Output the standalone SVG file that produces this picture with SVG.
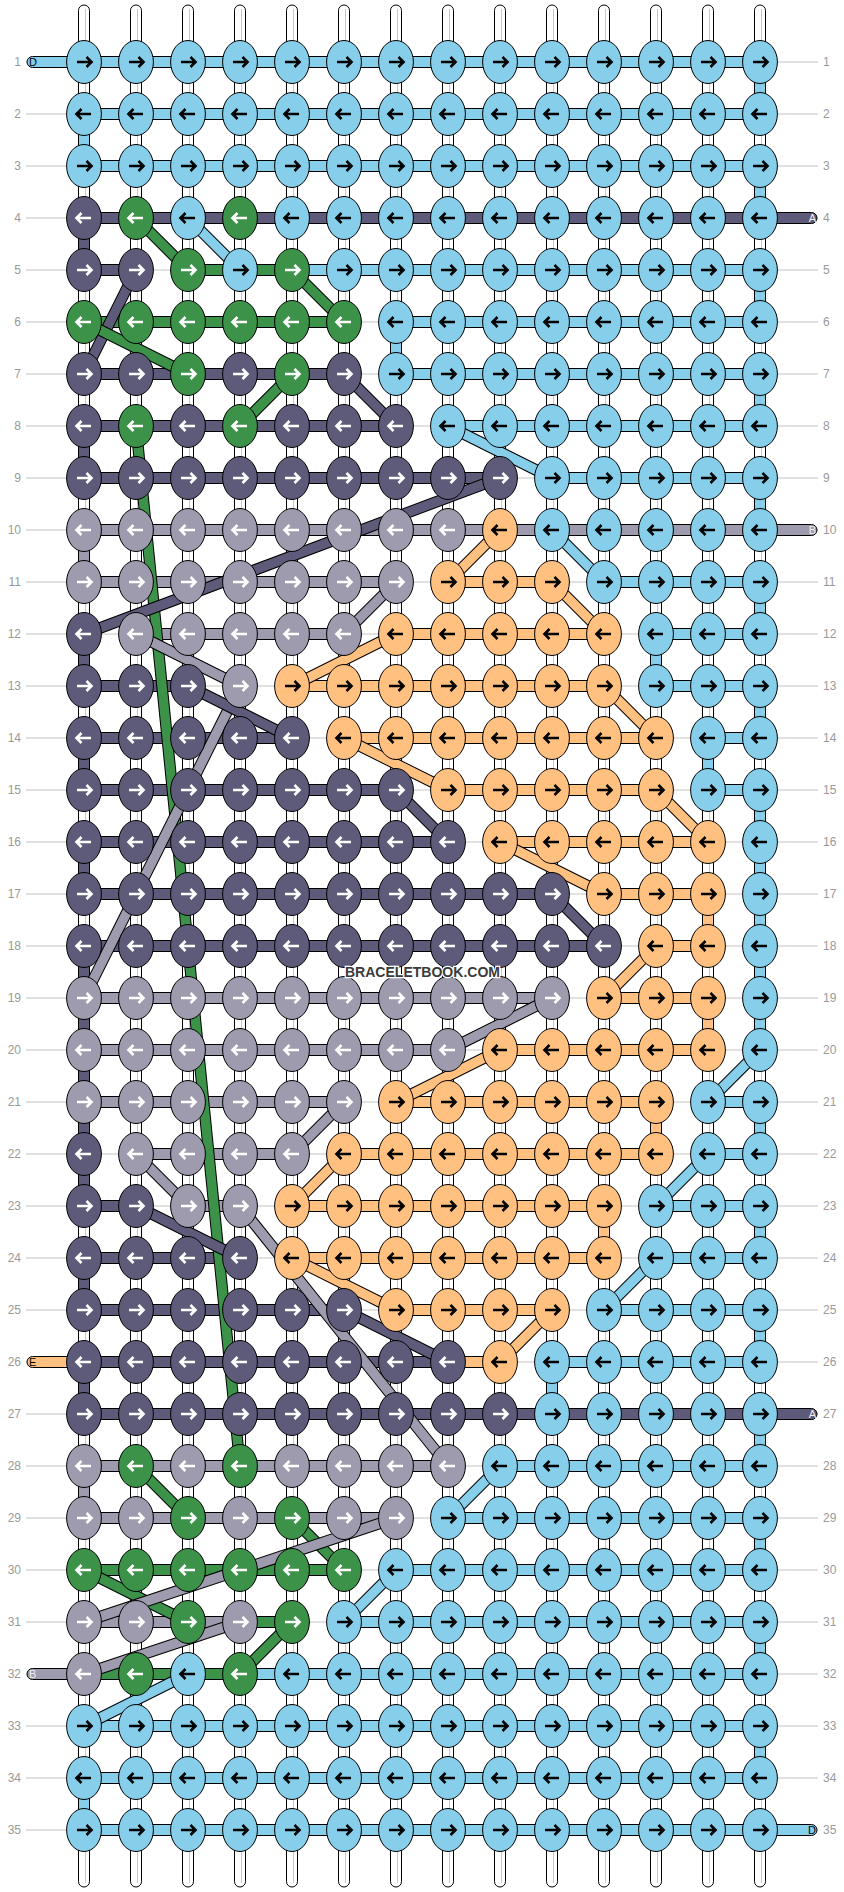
<svg xmlns="http://www.w3.org/2000/svg" width="844" height="1892" viewBox="0 0 844 1892">
<style>
.gl{stroke:#c4c4c4;stroke-width:1}
.w{fill:#fff;stroke:#000;stroke-width:1}
.wc{stroke:#c6c6c6;stroke-width:1}
.b{stroke:#000;stroke-width:1}
.L{fill:#87CEEB}.P{fill:#5E5B7A}.G{fill:#3B9248}.S{fill:#9D9BAD}.O{fill:#FFC080}
.k{stroke:#000;stroke-width:11.5;fill:none}
.dL{stroke:#87CEEB;stroke-width:9.5}.dP{stroke:#5E5B7A;stroke-width:9.5}.dG{stroke:#3B9248;stroke-width:9.5}.dS{stroke:#9D9BAD;stroke-width:9.5}.dO{stroke:#FFC080;stroke-width:9.5}
.e{stroke:#000;stroke-width:1}
.ar{fill:none;stroke-width:2.6}
.t{font-family:"Liberation Sans",Arial,sans-serif;font-size:12px;fill:#9a9a9a}
.tl{text-anchor:end}
.tab{font-family:"Liberation Sans",Arial,sans-serif;font-size:11px}
.wm{font-family:"Liberation Sans",Arial,sans-serif;font-size:14px;font-weight:bold;fill:#3a3a3a;stroke:#fff;stroke-width:2.5;paint-order:stroke;text-anchor:middle}
</style>
<defs>
<path id="ar" class="ar" d="M-7,0H7M2.5,-5L7.5,0L2.5,5"/>
<path id="al" class="ar" d="M7,0H-7M-2.5,-5L-7.5,0L-2.5,5"/>
<g id="Lr"><ellipse class="e L" rx="17.4" ry="21.5"/><use href="#ar" stroke="#000"/></g>
<g id="Ll"><ellipse class="e L" rx="17.4" ry="21.5"/><use href="#al" stroke="#000"/></g>
<g id="Or"><ellipse class="e O" rx="17.4" ry="21.5"/><use href="#ar" stroke="#000"/></g>
<g id="Ol"><ellipse class="e O" rx="17.4" ry="21.5"/><use href="#al" stroke="#000"/></g>
<g id="Pr"><ellipse class="e P" rx="17.4" ry="21.5"/><use href="#ar" stroke="#fff"/></g>
<g id="Pl"><ellipse class="e P" rx="17.4" ry="21.5"/><use href="#al" stroke="#fff"/></g>
<g id="Gr"><ellipse class="e G" rx="17.4" ry="21.5"/><use href="#ar" stroke="#fff"/></g>
<g id="Gl"><ellipse class="e G" rx="17.4" ry="21.5"/><use href="#al" stroke="#fff"/></g>
<g id="Sr"><ellipse class="e S" rx="17.4" ry="21.5"/><use href="#ar" stroke="#fff"/></g>
<g id="Sl"><ellipse class="e S" rx="17.4" ry="21.5"/><use href="#al" stroke="#fff"/></g>
<g id="allR"><use href="#Lr" x="84"/><use href="#Lr" x="136"/><use href="#Lr" x="188"/><use href="#Lr" x="240"/><use href="#Lr" x="292"/><use href="#Lr" x="344"/><use href="#Lr" x="396"/><use href="#Lr" x="448"/><use href="#Lr" x="500"/><use href="#Lr" x="552"/><use href="#Lr" x="604"/><use href="#Lr" x="656"/><use href="#Lr" x="708"/><use href="#Lr" x="760"/></g>
<g id="allL"><use href="#Ll" x="84"/><use href="#Ll" x="136"/><use href="#Ll" x="188"/><use href="#Ll" x="240"/><use href="#Ll" x="292"/><use href="#Ll" x="344"/><use href="#Ll" x="396"/><use href="#Ll" x="448"/><use href="#Ll" x="500"/><use href="#Ll" x="552"/><use href="#Ll" x="604"/><use href="#Ll" x="656"/><use href="#Ll" x="708"/><use href="#Ll" x="760"/></g>
</defs>
<rect width="844" height="1892" fill="#fff"/>
<g id="rowlines" class="gl">
<path d="M26,62H818M26,114H818M26,166H818M26,218H818M26,270H818M26,322H818M26,374H818M26,426H818M26,478H818M26,530H818M26,582H818M26,634H818M26,686H818M26,738H818M26,790H818M26,842H818M26,894H818M26,946H818M26,998H818M26,1050H818M26,1102H818M26,1154H818M26,1206H818M26,1258H818M26,1310H818M26,1362H818M26,1414H818M26,1466H818M26,1518H818M26,1570H818M26,1622H818M26,1674H818M26,1726H818M26,1778H818M26,1830H818"/>
</g>
<g id="warps">
<rect class="w" x="78.5" y="5" width="11" height="1882" rx="5.5"/><rect class="w" x="130.5" y="5" width="11" height="1882" rx="5.5"/><rect class="w" x="182.5" y="5" width="11" height="1882" rx="5.5"/><rect class="w" x="234.5" y="5" width="11" height="1882" rx="5.5"/><rect class="w" x="286.5" y="5" width="11" height="1882" rx="5.5"/><rect class="w" x="338.5" y="5" width="11" height="1882" rx="5.5"/><rect class="w" x="390.5" y="5" width="11" height="1882" rx="5.5"/><rect class="w" x="442.5" y="5" width="11" height="1882" rx="5.5"/><rect class="w" x="494.5" y="5" width="11" height="1882" rx="5.5"/><rect class="w" x="546.5" y="5" width="11" height="1882" rx="5.5"/><rect class="w" x="598.5" y="5" width="11" height="1882" rx="5.5"/><rect class="w" x="650.5" y="5" width="11" height="1882" rx="5.5"/><rect class="w" x="702.5" y="5" width="11" height="1882" rx="5.5"/><rect class="w" x="754.5" y="5" width="11" height="1882" rx="5.5"/>
<path class="wc" d="M85.5,9V1883M137.5,9V1883M189.5,9V1883M241.5,9V1883M293.5,9V1883M345.5,9V1883M397.5,9V1883M449.5,9V1883M501.5,9V1883M553.5,9V1883M605.5,9V1883M657.5,9V1883M709.5,9V1883M761.5,9V1883"/>
</g>
<g id="connectors">
<g id="bars">
<rect class="b L" x="27" y="56.5" width="733" height="11" rx="5.5"/>
<rect class="b L" x="84" y="108.5" width="676" height="11"/>
<rect class="b L" x="84" y="160.5" width="676" height="11"/>
<rect class="b P" x="84" y="212.5" width="733" height="11" rx="5.5"/>
<rect class="b P" x="84" y="264.5" width="52" height="11"/><rect class="b G" x="188" y="264.5" width="104" height="11"/><rect class="b L" x="292" y="264.5" width="468" height="11"/>
<rect class="b G" x="84" y="316.5" width="260" height="11"/><rect class="b L" x="396" y="316.5" width="364" height="11"/>
<rect class="b P" x="84" y="368.5" width="260" height="11"/><rect class="b L" x="396" y="368.5" width="364" height="11"/>
<rect class="b P" x="84" y="420.5" width="312" height="11"/><rect class="b L" x="448" y="420.5" width="312" height="11"/>
<rect class="b P" x="84" y="472.5" width="416" height="11"/><rect class="b L" x="552" y="472.5" width="208" height="11"/>
<rect class="b S" x="84" y="524.5" width="733" height="11" rx="5.5"/>
<rect class="b S" x="84" y="576.5" width="312" height="11"/><rect class="b O" x="448" y="576.5" width="104" height="11"/><rect class="b L" x="604" y="576.5" width="156" height="11"/>
<rect class="b S" x="136" y="628.5" width="208" height="11"/><rect class="b O" x="396" y="628.5" width="208" height="11"/><rect class="b L" x="656" y="628.5" width="104" height="11"/>
<rect class="b P" x="84" y="680.5" width="104" height="11"/><rect class="b O" x="292" y="680.5" width="312" height="11"/><rect class="b L" x="656" y="680.5" width="104" height="11"/>
<rect class="b P" x="84" y="732.5" width="208" height="11"/><rect class="b O" x="344" y="732.5" width="312" height="11"/><rect class="b L" x="708" y="732.5" width="52" height="11"/>
<rect class="b P" x="84" y="784.5" width="312" height="11"/><rect class="b O" x="448" y="784.5" width="208" height="11"/><rect class="b L" x="708" y="784.5" width="52" height="11"/>
<rect class="b P" x="84" y="836.5" width="364" height="11"/><rect class="b O" x="500" y="836.5" width="208" height="11"/>
<rect class="b P" x="84" y="888.5" width="468" height="11"/><rect class="b O" x="604" y="888.5" width="104" height="11"/>
<rect class="b P" x="84" y="940.5" width="520" height="11"/><rect class="b O" x="656" y="940.5" width="52" height="11"/>
<rect class="b S" x="84" y="992.5" width="468" height="11"/><rect class="b O" x="604" y="992.5" width="104" height="11"/>
<rect class="b S" x="84" y="1044.5" width="364" height="11"/><rect class="b O" x="500" y="1044.5" width="208" height="11"/>
<rect class="b S" x="84" y="1096.5" width="260" height="11"/><rect class="b O" x="396" y="1096.5" width="260" height="11"/><rect class="b L" x="708" y="1096.5" width="52" height="11"/>
<rect class="b S" x="136" y="1148.5" width="156" height="11"/><rect class="b O" x="344" y="1148.5" width="312" height="11"/><rect class="b L" x="708" y="1148.5" width="52" height="11"/>
<rect class="b P" x="84" y="1200.5" width="52" height="11"/><rect class="b S" x="188" y="1200.5" width="52" height="11"/><rect class="b O" x="292" y="1200.5" width="312" height="11"/><rect class="b L" x="656" y="1200.5" width="104" height="11"/>
<rect class="b P" x="84" y="1252.5" width="156" height="11"/><rect class="b O" x="292" y="1252.5" width="312" height="11"/><rect class="b L" x="656" y="1252.5" width="104" height="11"/>
<rect class="b P" x="84" y="1304.5" width="260" height="11"/><rect class="b O" x="396" y="1304.5" width="156" height="11"/><rect class="b L" x="604" y="1304.5" width="156" height="11"/>
<rect class="b O" x="27" y="1356.5" width="57" height="11" rx="5.5"/><rect class="b P" x="84" y="1356.5" width="364" height="11"/><rect class="b O" x="448" y="1356.5" width="52" height="11"/><rect class="b L" x="552" y="1356.5" width="208" height="11"/>
<rect class="b P" x="84" y="1408.5" width="733" height="11" rx="5.5"/>
<rect class="b S" x="84" y="1460.5" width="364" height="11"/><rect class="b L" x="500" y="1460.5" width="260" height="11"/>
<rect class="b S" x="84" y="1512.5" width="312" height="11"/><rect class="b L" x="448" y="1512.5" width="312" height="11"/>
<rect class="b G" x="84" y="1564.5" width="260" height="11"/><rect class="b L" x="396" y="1564.5" width="364" height="11"/>
<rect class="b S" x="84" y="1616.5" width="156" height="11"/><rect class="b G" x="240" y="1616.5" width="52" height="11"/><rect class="b L" x="344" y="1616.5" width="416" height="11"/>
<rect class="b S" x="27" y="1668.5" width="57" height="11" rx="5.5"/><rect class="b G" x="84" y="1668.5" width="156" height="11"/><rect class="b L" x="240" y="1668.5" width="520" height="11"/>
<rect class="b L" x="84" y="1720.5" width="676" height="11"/>
<rect class="b L" x="84" y="1772.5" width="676" height="11"/>
<rect class="b L" x="84" y="1824.5" width="733" height="11" rx="5.5"/>
</g>
<g id="verticals">
<rect class="b L" x="754.5" y="62" width="11" height="52"/><rect class="b L" x="78.5" y="114" width="11" height="52"/><rect class="b L" x="754.5" y="166" width="11" height="52"/><rect class="b L" x="754.5" y="270" width="11" height="52"/><rect class="b L" x="390.5" y="322" width="11" height="52"/><rect class="b L" x="754.5" y="374" width="11" height="52"/><rect class="b L" x="754.5" y="478" width="11" height="52"/><rect class="b L" x="754.5" y="582" width="11" height="52"/><rect class="b L" x="650.5" y="634" width="11" height="52"/><rect class="b L" x="754.5" y="686" width="11" height="52"/><rect class="b L" x="702.5" y="738" width="11" height="52"/><rect class="b L" x="754.5" y="790" width="11" height="260"/><rect class="b L" x="754.5" y="1102" width="11" height="52"/><rect class="b L" x="754.5" y="1206" width="11" height="52"/><rect class="b L" x="754.5" y="1310" width="11" height="52"/><rect class="b L" x="546.5" y="1362" width="11" height="52"/><rect class="b L" x="754.5" y="1414" width="11" height="52"/><rect class="b L" x="754.5" y="1518" width="11" height="52"/><rect class="b L" x="754.5" y="1622" width="11" height="52"/><rect class="b L" x="754.5" y="1726" width="11" height="52"/><rect class="b L" x="78.5" y="1778" width="11" height="52"/>
<rect class="b P" x="78.5" y="218" width="11" height="52"/><rect class="b P" x="78.5" y="426" width="11" height="52"/><rect class="b P" x="78.5" y="634" width="11" height="52"/><rect class="b P" x="78.5" y="738" width="11" height="52"/><rect class="b P" x="78.5" y="842" width="11" height="52"/><rect class="b P" x="78.5" y="946" width="11" height="260"/><rect class="b P" x="78.5" y="1258" width="11" height="52"/><rect class="b P" x="78.5" y="1362" width="11" height="52"/>
<rect class="b S" x="78.5" y="530" width="11" height="52"/><rect class="b S" x="78.5" y="1466" width="11" height="52"/>
<rect class="b O" x="702.5" y="894" width="11" height="52"/><rect class="b O" x="702.5" y="998" width="11" height="52"/><rect class="b O" x="650.5" y="1102" width="11" height="52"/><rect class="b O" x="598.5" y="1206" width="11" height="52"/>
</g>
<g id="diagonals">
<line class="k" x1="136" y1="426" x2="240" y2="1466"/><line class="dG" x1="136" y1="426" x2="240" y2="1466"/>
<line class="k" x1="240" y1="686" x2="84" y2="998"/><line class="dS" x1="240" y1="686" x2="84" y2="998"/>
<line class="k" x1="240" y1="1206" x2="448" y2="1466"/><line class="dS" x1="240" y1="1206" x2="448" y2="1466"/>
<line class="k" x1="500" y1="478" x2="84" y2="634"/><line class="dP" x1="500" y1="478" x2="84" y2="634"/>
<line class="k" x1="136" y1="270" x2="84" y2="374"/><line class="dP" x1="136" y1="270" x2="84" y2="374"/>
<line class="k" x1="344" y1="374" x2="396" y2="426"/><line class="dP" x1="344" y1="374" x2="396" y2="426"/>
<line class="k" x1="188" y1="686" x2="292" y2="738"/><line class="dP" x1="188" y1="686" x2="292" y2="738"/>
<line class="k" x1="396" y1="790" x2="448" y2="842"/><line class="dP" x1="396" y1="790" x2="448" y2="842"/>
<line class="k" x1="552" y1="894" x2="604" y2="946"/><line class="dP" x1="552" y1="894" x2="604" y2="946"/>
<line class="k" x1="136" y1="1206" x2="240" y2="1258"/><line class="dP" x1="136" y1="1206" x2="240" y2="1258"/>
<line class="k" x1="344" y1="1310" x2="448" y2="1362"/><line class="dP" x1="344" y1="1310" x2="448" y2="1362"/>
<line class="k" x1="136" y1="218" x2="188" y2="270"/><line class="dG" x1="136" y1="218" x2="188" y2="270"/>
<line class="k" x1="292" y1="270" x2="344" y2="322"/><line class="dG" x1="292" y1="270" x2="344" y2="322"/>
<line class="k" x1="84" y1="322" x2="188" y2="374"/><line class="dG" x1="84" y1="322" x2="188" y2="374"/>
<line class="k" x1="292" y1="374" x2="240" y2="426"/><line class="dG" x1="292" y1="374" x2="240" y2="426"/>
<line class="k" x1="136" y1="1466" x2="188" y2="1518"/><line class="dG" x1="136" y1="1466" x2="188" y2="1518"/>
<line class="k" x1="292" y1="1518" x2="344" y2="1570"/><line class="dG" x1="292" y1="1518" x2="344" y2="1570"/>
<line class="k" x1="84" y1="1570" x2="188" y2="1622"/><line class="dG" x1="84" y1="1570" x2="188" y2="1622"/>
<line class="k" x1="292" y1="1622" x2="240" y2="1674"/><line class="dG" x1="292" y1="1622" x2="240" y2="1674"/>
<line class="k" x1="396" y1="582" x2="344" y2="634"/><line class="dS" x1="396" y1="582" x2="344" y2="634"/>
<line class="k" x1="136" y1="634" x2="240" y2="686"/><line class="dS" x1="136" y1="634" x2="240" y2="686"/>
<line class="k" x1="552" y1="998" x2="448" y2="1050"/><line class="dS" x1="552" y1="998" x2="448" y2="1050"/>
<line class="k" x1="344" y1="1102" x2="292" y2="1154"/><line class="dS" x1="344" y1="1102" x2="292" y2="1154"/>
<line class="k" x1="136" y1="1154" x2="188" y2="1206"/><line class="dS" x1="136" y1="1154" x2="188" y2="1206"/>
<line class="k" x1="396" y1="1518" x2="84" y2="1622"/><line class="dS" x1="396" y1="1518" x2="84" y2="1622"/>
<line class="k" x1="240" y1="1622" x2="84" y2="1674"/><line class="dS" x1="240" y1="1622" x2="84" y2="1674"/>
<line class="k" x1="188" y1="218" x2="240" y2="270"/><line class="dL" x1="188" y1="218" x2="240" y2="270"/>
<line class="k" x1="448" y1="426" x2="552" y2="478"/><line class="dL" x1="448" y1="426" x2="552" y2="478"/>
<line class="k" x1="552" y1="530" x2="604" y2="582"/><line class="dL" x1="552" y1="530" x2="604" y2="582"/>
<line class="k" x1="760" y1="1050" x2="708" y2="1102"/><line class="dL" x1="760" y1="1050" x2="708" y2="1102"/>
<line class="k" x1="708" y1="1154" x2="656" y2="1206"/><line class="dL" x1="708" y1="1154" x2="656" y2="1206"/>
<line class="k" x1="656" y1="1258" x2="604" y2="1310"/><line class="dL" x1="656" y1="1258" x2="604" y2="1310"/>
<line class="k" x1="500" y1="1466" x2="448" y2="1518"/><line class="dL" x1="500" y1="1466" x2="448" y2="1518"/>
<line class="k" x1="396" y1="1570" x2="344" y2="1622"/><line class="dL" x1="396" y1="1570" x2="344" y2="1622"/>
<line class="k" x1="188" y1="1674" x2="84" y2="1726"/><line class="dL" x1="188" y1="1674" x2="84" y2="1726"/>
<line class="k" x1="500" y1="530" x2="448" y2="582"/><line class="dO" x1="500" y1="530" x2="448" y2="582"/>
<line class="k" x1="552" y1="582" x2="604" y2="634"/><line class="dO" x1="552" y1="582" x2="604" y2="634"/>
<line class="k" x1="396" y1="634" x2="292" y2="686"/><line class="dO" x1="396" y1="634" x2="292" y2="686"/>
<line class="k" x1="604" y1="686" x2="656" y2="738"/><line class="dO" x1="604" y1="686" x2="656" y2="738"/>
<line class="k" x1="344" y1="738" x2="448" y2="790"/><line class="dO" x1="344" y1="738" x2="448" y2="790"/>
<line class="k" x1="656" y1="790" x2="708" y2="842"/><line class="dO" x1="656" y1="790" x2="708" y2="842"/>
<line class="k" x1="500" y1="842" x2="604" y2="894"/><line class="dO" x1="500" y1="842" x2="604" y2="894"/>
<line class="k" x1="656" y1="946" x2="604" y2="998"/><line class="dO" x1="656" y1="946" x2="604" y2="998"/>
<line class="k" x1="500" y1="1050" x2="396" y2="1102"/><line class="dO" x1="500" y1="1050" x2="396" y2="1102"/>
<line class="k" x1="344" y1="1154" x2="292" y2="1206"/><line class="dO" x1="344" y1="1154" x2="292" y2="1206"/>
<line class="k" x1="292" y1="1258" x2="396" y2="1310"/><line class="dO" x1="292" y1="1258" x2="396" y2="1310"/>
<line class="k" x1="552" y1="1310" x2="500" y2="1362"/><line class="dO" x1="552" y1="1310" x2="500" y2="1362"/>
</g>
</g>
<g id="knots">
<use id="row1" href="#allR" y="62"/>
<use id="row2" href="#allL" y="114"/>
<use id="row3" href="#allR" y="166"/>
<g id="row4" transform="translate(0,218)"><use href="#Pl" x="84"/><use href="#Gl" x="136"/><use href="#Ll" x="188"/><use href="#Gl" x="240"/><use href="#Ll" x="292"/><use href="#Ll" x="344"/><use href="#Ll" x="396"/><use href="#Ll" x="448"/><use href="#Ll" x="500"/><use href="#Ll" x="552"/><use href="#Ll" x="604"/><use href="#Ll" x="656"/><use href="#Ll" x="708"/><use href="#Ll" x="760"/></g>
<g id="row5" transform="translate(0,270)"><use href="#Pr" x="84"/><use href="#Pr" x="136"/><use href="#Gr" x="188"/><use href="#Lr" x="240"/><use href="#Gr" x="292"/><use href="#Lr" x="344"/><use href="#Lr" x="396"/><use href="#Lr" x="448"/><use href="#Lr" x="500"/><use href="#Lr" x="552"/><use href="#Lr" x="604"/><use href="#Lr" x="656"/><use href="#Lr" x="708"/><use href="#Lr" x="760"/></g>
<g id="row6" transform="translate(0,322)"><use href="#Gl" x="84"/><use href="#Gl" x="136"/><use href="#Gl" x="188"/><use href="#Gl" x="240"/><use href="#Gl" x="292"/><use href="#Gl" x="344"/><use href="#Ll" x="396"/><use href="#Ll" x="448"/><use href="#Ll" x="500"/><use href="#Ll" x="552"/><use href="#Ll" x="604"/><use href="#Ll" x="656"/><use href="#Ll" x="708"/><use href="#Ll" x="760"/></g>
<g id="row7" transform="translate(0,374)"><use href="#Pr" x="84"/><use href="#Pr" x="136"/><use href="#Gr" x="188"/><use href="#Pr" x="240"/><use href="#Gr" x="292"/><use href="#Pr" x="344"/><use href="#Lr" x="396"/><use href="#Lr" x="448"/><use href="#Lr" x="500"/><use href="#Lr" x="552"/><use href="#Lr" x="604"/><use href="#Lr" x="656"/><use href="#Lr" x="708"/><use href="#Lr" x="760"/></g>
<g id="row8" transform="translate(0,426)"><use href="#Pl" x="84"/><use href="#Gl" x="136"/><use href="#Pl" x="188"/><use href="#Gl" x="240"/><use href="#Pl" x="292"/><use href="#Pl" x="344"/><use href="#Pl" x="396"/><use href="#Ll" x="448"/><use href="#Ll" x="500"/><use href="#Ll" x="552"/><use href="#Ll" x="604"/><use href="#Ll" x="656"/><use href="#Ll" x="708"/><use href="#Ll" x="760"/></g>
<g id="row9" transform="translate(0,478)"><use href="#Pr" x="84"/><use href="#Pr" x="136"/><use href="#Pr" x="188"/><use href="#Pr" x="240"/><use href="#Pr" x="292"/><use href="#Pr" x="344"/><use href="#Pr" x="396"/><use href="#Pr" x="448"/><use href="#Pr" x="500"/><use href="#Lr" x="552"/><use href="#Lr" x="604"/><use href="#Lr" x="656"/><use href="#Lr" x="708"/><use href="#Lr" x="760"/></g>
<g id="row10" transform="translate(0,530)"><use href="#Sl" x="84"/><use href="#Sl" x="136"/><use href="#Sl" x="188"/><use href="#Sl" x="240"/><use href="#Sl" x="292"/><use href="#Sl" x="344"/><use href="#Sl" x="396"/><use href="#Sl" x="448"/><use href="#Ol" x="500"/><use href="#Ll" x="552"/><use href="#Ll" x="604"/><use href="#Ll" x="656"/><use href="#Ll" x="708"/><use href="#Ll" x="760"/></g>
<g id="row11" transform="translate(0,582)"><use href="#Sr" x="84"/><use href="#Sr" x="136"/><use href="#Sr" x="188"/><use href="#Sr" x="240"/><use href="#Sr" x="292"/><use href="#Sr" x="344"/><use href="#Sr" x="396"/><use href="#Or" x="448"/><use href="#Or" x="500"/><use href="#Or" x="552"/><use href="#Lr" x="604"/><use href="#Lr" x="656"/><use href="#Lr" x="708"/><use href="#Lr" x="760"/></g>
<g id="row12" transform="translate(0,634)"><use href="#Pl" x="84"/><use href="#Sl" x="136"/><use href="#Sl" x="188"/><use href="#Sl" x="240"/><use href="#Sl" x="292"/><use href="#Sl" x="344"/><use href="#Ol" x="396"/><use href="#Ol" x="448"/><use href="#Ol" x="500"/><use href="#Ol" x="552"/><use href="#Ol" x="604"/><use href="#Ll" x="656"/><use href="#Ll" x="708"/><use href="#Ll" x="760"/></g>
<g id="row13" transform="translate(0,686)"><use href="#Pr" x="84"/><use href="#Pr" x="136"/><use href="#Pr" x="188"/><use href="#Sr" x="240"/><use href="#Or" x="292"/><use href="#Or" x="344"/><use href="#Or" x="396"/><use href="#Or" x="448"/><use href="#Or" x="500"/><use href="#Or" x="552"/><use href="#Or" x="604"/><use href="#Lr" x="656"/><use href="#Lr" x="708"/><use href="#Lr" x="760"/></g>
<g id="row14" transform="translate(0,738)"><use href="#Pl" x="84"/><use href="#Pl" x="136"/><use href="#Pl" x="188"/><use href="#Pl" x="240"/><use href="#Pl" x="292"/><use href="#Ol" x="344"/><use href="#Ol" x="396"/><use href="#Ol" x="448"/><use href="#Ol" x="500"/><use href="#Ol" x="552"/><use href="#Ol" x="604"/><use href="#Ol" x="656"/><use href="#Ll" x="708"/><use href="#Ll" x="760"/></g>
<g id="row15" transform="translate(0,790)"><use href="#Pr" x="84"/><use href="#Pr" x="136"/><use href="#Pr" x="188"/><use href="#Pr" x="240"/><use href="#Pr" x="292"/><use href="#Pr" x="344"/><use href="#Pr" x="396"/><use href="#Or" x="448"/><use href="#Or" x="500"/><use href="#Or" x="552"/><use href="#Or" x="604"/><use href="#Or" x="656"/><use href="#Lr" x="708"/><use href="#Lr" x="760"/></g>
<g id="row16" transform="translate(0,842)"><use href="#Pl" x="84"/><use href="#Pl" x="136"/><use href="#Pl" x="188"/><use href="#Pl" x="240"/><use href="#Pl" x="292"/><use href="#Pl" x="344"/><use href="#Pl" x="396"/><use href="#Pl" x="448"/><use href="#Ol" x="500"/><use href="#Ol" x="552"/><use href="#Ol" x="604"/><use href="#Ol" x="656"/><use href="#Ol" x="708"/><use href="#Ll" x="760"/></g>
<g id="row17" transform="translate(0,894)"><use href="#Pr" x="84"/><use href="#Pr" x="136"/><use href="#Pr" x="188"/><use href="#Pr" x="240"/><use href="#Pr" x="292"/><use href="#Pr" x="344"/><use href="#Pr" x="396"/><use href="#Pr" x="448"/><use href="#Pr" x="500"/><use href="#Pr" x="552"/><use href="#Or" x="604"/><use href="#Or" x="656"/><use href="#Or" x="708"/><use href="#Lr" x="760"/></g>
<g id="row18" transform="translate(0,946)"><use href="#Pl" x="84"/><use href="#Pl" x="136"/><use href="#Pl" x="188"/><use href="#Pl" x="240"/><use href="#Pl" x="292"/><use href="#Pl" x="344"/><use href="#Pl" x="396"/><use href="#Pl" x="448"/><use href="#Pl" x="500"/><use href="#Pl" x="552"/><use href="#Pl" x="604"/><use href="#Ol" x="656"/><use href="#Ol" x="708"/><use href="#Ll" x="760"/></g>
<g id="row19" transform="translate(0,998)"><use href="#Sr" x="84"/><use href="#Sr" x="136"/><use href="#Sr" x="188"/><use href="#Sr" x="240"/><use href="#Sr" x="292"/><use href="#Sr" x="344"/><use href="#Sr" x="396"/><use href="#Sr" x="448"/><use href="#Sr" x="500"/><use href="#Sr" x="552"/><use href="#Or" x="604"/><use href="#Or" x="656"/><use href="#Or" x="708"/><use href="#Lr" x="760"/></g>
<g id="row20" transform="translate(0,1050)"><use href="#Sl" x="84"/><use href="#Sl" x="136"/><use href="#Sl" x="188"/><use href="#Sl" x="240"/><use href="#Sl" x="292"/><use href="#Sl" x="344"/><use href="#Sl" x="396"/><use href="#Sl" x="448"/><use href="#Ol" x="500"/><use href="#Ol" x="552"/><use href="#Ol" x="604"/><use href="#Ol" x="656"/><use href="#Ol" x="708"/><use href="#Ll" x="760"/></g>
<g id="row21" transform="translate(0,1102)"><use href="#Sr" x="84"/><use href="#Sr" x="136"/><use href="#Sr" x="188"/><use href="#Sr" x="240"/><use href="#Sr" x="292"/><use href="#Sr" x="344"/><use href="#Or" x="396"/><use href="#Or" x="448"/><use href="#Or" x="500"/><use href="#Or" x="552"/><use href="#Or" x="604"/><use href="#Or" x="656"/><use href="#Lr" x="708"/><use href="#Lr" x="760"/></g>
<g id="row22" transform="translate(0,1154)"><use href="#Pl" x="84"/><use href="#Sl" x="136"/><use href="#Sl" x="188"/><use href="#Sl" x="240"/><use href="#Sl" x="292"/><use href="#Ol" x="344"/><use href="#Ol" x="396"/><use href="#Ol" x="448"/><use href="#Ol" x="500"/><use href="#Ol" x="552"/><use href="#Ol" x="604"/><use href="#Ol" x="656"/><use href="#Ll" x="708"/><use href="#Ll" x="760"/></g>
<g id="row23" transform="translate(0,1206)"><use href="#Pr" x="84"/><use href="#Pr" x="136"/><use href="#Sr" x="188"/><use href="#Sr" x="240"/><use href="#Or" x="292"/><use href="#Or" x="344"/><use href="#Or" x="396"/><use href="#Or" x="448"/><use href="#Or" x="500"/><use href="#Or" x="552"/><use href="#Or" x="604"/><use href="#Lr" x="656"/><use href="#Lr" x="708"/><use href="#Lr" x="760"/></g>
<g id="row24" transform="translate(0,1258)"><use href="#Pl" x="84"/><use href="#Pl" x="136"/><use href="#Pl" x="188"/><use href="#Pl" x="240"/><use href="#Ol" x="292"/><use href="#Ol" x="344"/><use href="#Ol" x="396"/><use href="#Ol" x="448"/><use href="#Ol" x="500"/><use href="#Ol" x="552"/><use href="#Ol" x="604"/><use href="#Ll" x="656"/><use href="#Ll" x="708"/><use href="#Ll" x="760"/></g>
<g id="row25" transform="translate(0,1310)"><use href="#Pr" x="84"/><use href="#Pr" x="136"/><use href="#Pr" x="188"/><use href="#Pr" x="240"/><use href="#Pr" x="292"/><use href="#Pr" x="344"/><use href="#Or" x="396"/><use href="#Or" x="448"/><use href="#Or" x="500"/><use href="#Or" x="552"/><use href="#Lr" x="604"/><use href="#Lr" x="656"/><use href="#Lr" x="708"/><use href="#Lr" x="760"/></g>
<g id="row26" transform="translate(0,1362)"><use href="#Pl" x="84"/><use href="#Pl" x="136"/><use href="#Pl" x="188"/><use href="#Pl" x="240"/><use href="#Pl" x="292"/><use href="#Pl" x="344"/><use href="#Pl" x="396"/><use href="#Pl" x="448"/><use href="#Ol" x="500"/><use href="#Ll" x="552"/><use href="#Ll" x="604"/><use href="#Ll" x="656"/><use href="#Ll" x="708"/><use href="#Ll" x="760"/></g>
<g id="row27" transform="translate(0,1414)"><use href="#Pr" x="84"/><use href="#Pr" x="136"/><use href="#Pr" x="188"/><use href="#Pr" x="240"/><use href="#Pr" x="292"/><use href="#Pr" x="344"/><use href="#Pr" x="396"/><use href="#Pr" x="448"/><use href="#Pr" x="500"/><use href="#Lr" x="552"/><use href="#Lr" x="604"/><use href="#Lr" x="656"/><use href="#Lr" x="708"/><use href="#Lr" x="760"/></g>
<g id="row28" transform="translate(0,1466)"><use href="#Sl" x="84"/><use href="#Gl" x="136"/><use href="#Sl" x="188"/><use href="#Gl" x="240"/><use href="#Sl" x="292"/><use href="#Sl" x="344"/><use href="#Sl" x="396"/><use href="#Sl" x="448"/><use href="#Ll" x="500"/><use href="#Ll" x="552"/><use href="#Ll" x="604"/><use href="#Ll" x="656"/><use href="#Ll" x="708"/><use href="#Ll" x="760"/></g>
<g id="row29" transform="translate(0,1518)"><use href="#Sr" x="84"/><use href="#Sr" x="136"/><use href="#Gr" x="188"/><use href="#Sr" x="240"/><use href="#Gr" x="292"/><use href="#Sr" x="344"/><use href="#Sr" x="396"/><use href="#Lr" x="448"/><use href="#Lr" x="500"/><use href="#Lr" x="552"/><use href="#Lr" x="604"/><use href="#Lr" x="656"/><use href="#Lr" x="708"/><use href="#Lr" x="760"/></g>
<g id="row30" transform="translate(0,1570)"><use href="#Gl" x="84"/><use href="#Gl" x="136"/><use href="#Gl" x="188"/><use href="#Gl" x="240"/><use href="#Gl" x="292"/><use href="#Gl" x="344"/><use href="#Ll" x="396"/><use href="#Ll" x="448"/><use href="#Ll" x="500"/><use href="#Ll" x="552"/><use href="#Ll" x="604"/><use href="#Ll" x="656"/><use href="#Ll" x="708"/><use href="#Ll" x="760"/></g>
<g id="row31" transform="translate(0,1622)"><use href="#Sr" x="84"/><use href="#Sr" x="136"/><use href="#Gr" x="188"/><use href="#Sr" x="240"/><use href="#Gr" x="292"/><use href="#Lr" x="344"/><use href="#Lr" x="396"/><use href="#Lr" x="448"/><use href="#Lr" x="500"/><use href="#Lr" x="552"/><use href="#Lr" x="604"/><use href="#Lr" x="656"/><use href="#Lr" x="708"/><use href="#Lr" x="760"/></g>
<g id="row32" transform="translate(0,1674)"><use href="#Sl" x="84"/><use href="#Gl" x="136"/><use href="#Ll" x="188"/><use href="#Gl" x="240"/><use href="#Ll" x="292"/><use href="#Ll" x="344"/><use href="#Ll" x="396"/><use href="#Ll" x="448"/><use href="#Ll" x="500"/><use href="#Ll" x="552"/><use href="#Ll" x="604"/><use href="#Ll" x="656"/><use href="#Ll" x="708"/><use href="#Ll" x="760"/></g>
<use id="row33" href="#allR" y="1726"/>
<use id="row34" href="#allL" y="1778"/>
<use id="row35" href="#allR" y="1830"/>
</g>
<g id="tabletters" class="tab">
<text x="29" y="66">D</text>
<text x="816" y="222" text-anchor="end" fill="#eee">A</text>
<text x="816" y="534" text-anchor="end" fill="#eee">B</text>
<text x="29" y="1366">E</text>
<text x="816" y="1418" text-anchor="end" fill="#eee">A</text>
<text x="29" y="1678" fill="#eee">B</text>
<text x="816" y="1834" text-anchor="end">D</text>
</g>
<g id="labels-left" class="t tl">
<text x="21" y="66.3">1</text><text x="21" y="118.3">2</text><text x="21" y="170.3">3</text><text x="21" y="222.3">4</text><text x="21" y="274.3">5</text><text x="21" y="326.3">6</text><text x="21" y="378.3">7</text><text x="21" y="430.3">8</text><text x="21" y="482.3">9</text><text x="21" y="534.3">10</text><text x="21" y="586.3">11</text><text x="21" y="638.3">12</text><text x="21" y="690.3">13</text><text x="21" y="742.3">14</text><text x="21" y="794.3">15</text><text x="21" y="846.3">16</text><text x="21" y="898.3">17</text><text x="21" y="950.3">18</text><text x="21" y="1002.3">19</text><text x="21" y="1054.3">20</text><text x="21" y="1106.3">21</text><text x="21" y="1158.3">22</text><text x="21" y="1210.3">23</text><text x="21" y="1262.3">24</text><text x="21" y="1314.3">25</text><text x="21" y="1366.3">26</text><text x="21" y="1418.3">27</text><text x="21" y="1470.3">28</text><text x="21" y="1522.3">29</text><text x="21" y="1574.3">30</text><text x="21" y="1626.3">31</text><text x="21" y="1678.3">32</text><text x="21" y="1730.3">33</text><text x="21" y="1782.3">34</text><text x="21" y="1834.3">35</text>
</g>
<g id="labels-right" class="t">
<text x="823" y="66.3">1</text><text x="823" y="118.3">2</text><text x="823" y="170.3">3</text><text x="823" y="222.3">4</text><text x="823" y="274.3">5</text><text x="823" y="326.3">6</text><text x="823" y="378.3">7</text><text x="823" y="430.3">8</text><text x="823" y="482.3">9</text><text x="823" y="534.3">10</text><text x="823" y="586.3">11</text><text x="823" y="638.3">12</text><text x="823" y="690.3">13</text><text x="823" y="742.3">14</text><text x="823" y="794.3">15</text><text x="823" y="846.3">16</text><text x="823" y="898.3">17</text><text x="823" y="950.3">18</text><text x="823" y="1002.3">19</text><text x="823" y="1054.3">20</text><text x="823" y="1106.3">21</text><text x="823" y="1158.3">22</text><text x="823" y="1210.3">23</text><text x="823" y="1262.3">24</text><text x="823" y="1314.3">25</text><text x="823" y="1366.3">26</text><text x="823" y="1418.3">27</text><text x="823" y="1470.3">28</text><text x="823" y="1522.3">29</text><text x="823" y="1574.3">30</text><text x="823" y="1626.3">31</text><text x="823" y="1678.3">32</text><text x="823" y="1730.3">33</text><text x="823" y="1782.3">34</text><text x="823" y="1834.3">35</text>
</g>
<text id="watermark" class="wm" x="422.5" y="977" textLength="155" lengthAdjust="spacingAndGlyphs">BRACELETBOOK.COM</text>
</svg>
